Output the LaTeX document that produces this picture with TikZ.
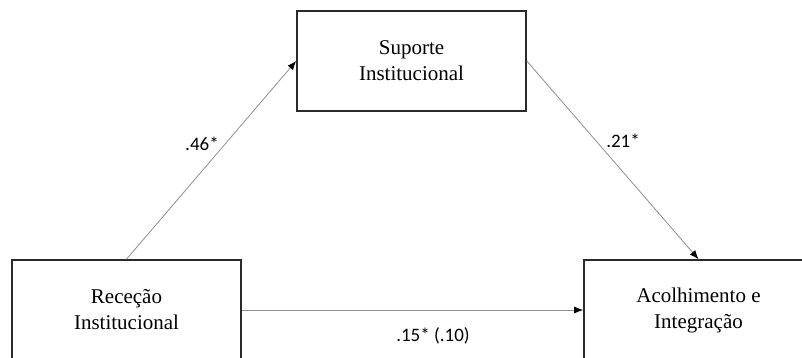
\documentclass[tikz,border=0pt]{standalone}
\usepackage{fontspec}
\setmainfont{Liberation Serif}
\newfontfamily\labelfont{Carlito}
\usetikzlibrary{arrows.meta}
\definecolor{boxline}{HTML}{2A2A2A}
\definecolor{arrowline}{HTML}{8E8E8E}
\begin{document}
\begin{tikzpicture}[x=1pt,y=-1pt,
  varbox/.style={draw=boxline,line width=1.6pt,minimum width=229pt,minimum height=100pt,
    inner sep=0pt,align=center,font=\fontsize{21}{26}\selectfont},
  path/.style={draw=arrowline,line width=0.8pt,-{Latex[length=9pt,width=7pt,color=black]}},
  coef/.style={font=\labelfont\fontsize{19}{22}\selectfont,inner sep=0pt}]
\useasboundingbox (0,0) rectangle (802,358);
\clip (0,0) rectangle (802,358);
\node[varbox] (T) at (411.5,61) {Suporte\\Institucional};
\node[varbox] (L) at (126.5,310) {Receção\\Institucional};
\node[varbox] (R) at (698.5,310) {Acolhimento e\\Integração};
\draw[path] (L.north) -- (T.west);
\draw[path] (T.east) -- (R.north);
\draw[path] (L.east) -- (R.west);
\node[coef] (c1) at (202,144) {.46*};
\node[coef] (c2) at (623,141) {.21*};
\node[coef] (c3) at (433,336) {.15* (.10)};
\end{tikzpicture}
\end{document}
